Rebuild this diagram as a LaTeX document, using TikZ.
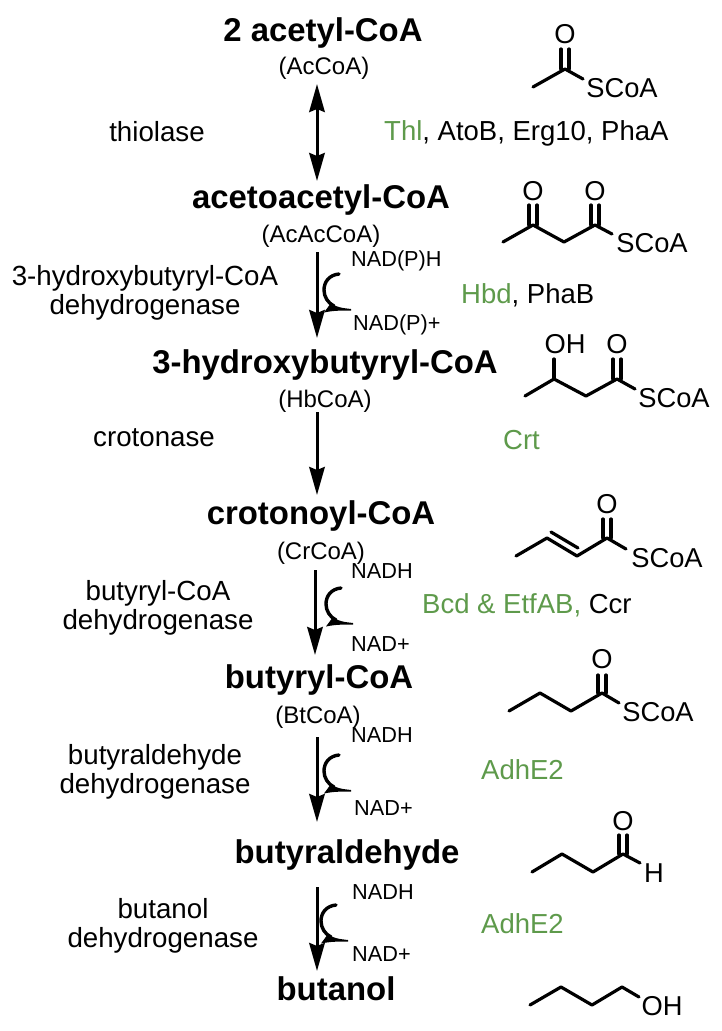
\documentclass[tikz,border=0pt]{standalone}
\usepackage{fontspec}
\setmainfont{Liberation Sans}
\usetikzlibrary{arrows.meta}
\definecolor{enz}{HTML}{5E9A4B}
\tikzset{
  x=1pt,y=-1pt,
  txt/.style={inner sep=0pt,align=center,font=\fontsize{27.7}{29}\selectfont},
  main/.style={inner sep=0pt,font=\fontsize{32.9}{36}\bfseries\selectfont},
  abbr/.style={inner sep=0pt,font=\fontsize{24}{27}\selectfont},
  cof/.style={inner sep=0pt,anchor=west,font=\fontsize{21.7}{25}\selectfont},
  gene/.style={inner sep=0pt,anchor=west,font=\fontsize{27.5}{30}\selectfont},
  atom/.style={inner sep=0pt,font=\fontsize{27.3}{30}\selectfont},
  bond/.style={line width=3.2pt,line cap=round,line join=round},
  rxn/.style={line width=3pt,-{Stealth[length=28pt,width=15.5pt,inset=3pt]}},
  rxnb/.style={line width=3pt,{Stealth[length=28pt,width=15.5pt,inset=3pt]}-{Stealth[length=28pt,width=15.5pt,inset=3pt]}},
  cofcurve/.pic={
    \draw[line width=3.4pt,line cap=round] (-11,-36) .. controls (-21,-35) and (-26,-28) .. (-26,-20) .. controls (-26,-13) and (-22,-7) .. (-16,-4);
    \fill (-19,-7) .. controls (-15,-3) and (-8,-2) .. (1,-1) -- (1,0.5) .. controls (-8,0.5) and (-17,0.5) .. (-26,2.5) -- cycle;
  }
}
\begin{document}
\begin{tikzpicture}
\useasboundingbox (0,0) rectangle (721,1031);
% compounds
\node[main] (n1) at (323,33) {2 acetyl-CoA};
\node[abbr] (a1) at (324,68) {(AcCoA)};
\node[main] (n2) at (321,200) {acetoacetyl-CoA};
\node[abbr] (a2) at (321,236) {(AcAcCoA)};
\node[main] (n3) at (325,365) {3-hydroxybutyryl-CoA};
\node[abbr] (a3) at (325,401) {(HbCoA)};
\node[main] (n4) at (321,516) {crotonoyl-CoA};
\node[abbr] (a4) at (321,553) {(CrCoA)};
\node[main] (n5) at (319,680) {butyryl-CoA};
\node[abbr] (a5) at (318,717) {(BtCoA)};
\node[main] (n6) at (347,855) {butyraldehyde};
\node[main] (n7) at (336,989) {butanol};
% enzymes
\node[txt] (e1) at (157,132) {thiolase};
\node[txt] (e2) at (145,293) {3-hydroxybutyryl-CoA\\dehydrogenase};
\node[txt] (e3) at (154,438) {crotonase};
\node[txt] (e4) at (158,608) {butyryl-CoA\\dehydrogenase};
\node[txt] (e5) at (155,772) {butyraldehyde\\dehydrogenase};
\node[txt] (e6) at (163,926) {butanol\\dehydrogenase};
% genes
\node[gene] (g1) at (384,133) {\textcolor{enz}{Thl}, AtoB, Erg10, PhaA};
\node[gene] (g2) at (461,295) {\textcolor{enz}{Hbd}, PhaB};
\node[gene,text=enz] (g3) at (503,440) {Crt};
\node[gene] (g4) at (422,605) {\textcolor{enz}{Bcd \& EtfAB,} Ccr};
\node[gene,text=enz] (g5) at (481,770) {AdhE2};
\node[gene,text=enz] (g6) at (481,924) {AdhE2};
% cofactors
\node[cof] (c2a) at (351,261) {NAD(P)H};
\node[cof] (c2b) at (353,325) {NAD(P)+};
\node[cof] (c4a) at (351,571) {NADH};
\node[cof] (c4b) at (351,644) {NAD+};
\node[cof] (c5a) at (351,735) {NADH};
\node[cof] (c5b) at (354,808) {NAD+};
\node[cof] (c6a) at (352,892) {NADH};
\node[cof] (c6b) at (352,954) {NAD+};
% reaction arrows
\coordinate (r1a) at (317,84); \coordinate (r1b) at (317,181);
\coordinate (r2a) at (317,252); \coordinate (r2b) at (317,338);
\coordinate (r3a) at (317,412); \coordinate (r3b) at (317,495);
\coordinate (r4a) at (315,570); \coordinate (r4b) at (315,655);
\coordinate (r5a) at (317,737); \coordinate (r5b) at (317,822);
\coordinate (r6a) at (317,887); \coordinate (r6b) at (317,971);
\draw[rxnb] (r1a) -- (r1b);
\draw[rxn] (r2a) -- (r2b);
\draw[rxn] (r3a) -- (r3b);
\draw[rxn] (r4a) -- (r4b);
\draw[rxn] (r5a) -- (r5b);
\draw[rxn] (r6a) -- (r6b);
\pic at (350,310) {cofcurve};
\pic at (352,624) {cofcurve};
\pic at (350,791) {cofcurve};
\pic at (347,941) {cofcurve};
% structure 1
\node[atom] (o1) at (565,34) {O};
\node[atom] (s1) at (622,88) {SCoA};
\draw[bond] (533,87) -- (565,69) -- (583,79);
\draw[bond] (561,69) -- (561,49) (569,69) -- (569,49);
% structure 2
\node[atom] (o2a) at (533,191) {O};
\node[atom] (o2b) at (595,191) {O};
\node[atom] (s2) at (652,243) {SCoA};
\draw[bond] (503,242) -- (533,225) -- (564,242) -- (595,225) -- (612,234);
\draw[bond] (529,225) -- (529,205) (537,225) -- (537,205);
\draw[bond] (591,225) -- (591,205) (599,225) -- (599,205);
% structure 3
\node[atom] (oh3) at (565,344) {OH};
\node[atom] (o3) at (617,344) {O};
\node[atom] (s3) at (674,398) {SCoA};
\draw[bond] (525,396) -- (554,379) -- (586,396) -- (617,379) -- (635,389);
\draw[bond] (554,379) -- (554,359);
\draw[bond] (613,379) -- (613,359) (621,379) -- (621,359);
% structure 4
\node[atom] (o4) at (607,504) {O};
\node[atom] (s4) at (667,558) {SCoA};
\draw[bond] (516,556) -- (547,538) -- (577,556) -- (607,538) -- (626,549);
\draw[bond] (551,532) -- (578,548);
\draw[bond] (603,538) -- (603,519) (611,538) -- (611,519);
% structure 5
\node[atom] (o5) at (602,659) {O};
\node[atom] (s5) at (658,712) {SCoA};
\draw[bond] (509,711) -- (540,693) -- (571,711) -- (602,693) -- (619,703);
\draw[bond] (598,693) -- (598,675) (606,693) -- (606,675);
% structure 6
\node[atom] (o6) at (623,821) {O};
\node[atom] (h6) at (654,873) {H};
\draw[bond] (532,872) -- (562,854) -- (593,872) -- (623,854) -- (640,863);
\draw[bond] (619,854) -- (619,835) (627,854) -- (627,835);
% structure 7
\node[atom] (oh7) at (662,1006) {OH};
\draw[bond] (530,1005) -- (561,987) -- (592,1005) -- (622,987) -- (639,997);
\end{tikzpicture}
\end{document}
